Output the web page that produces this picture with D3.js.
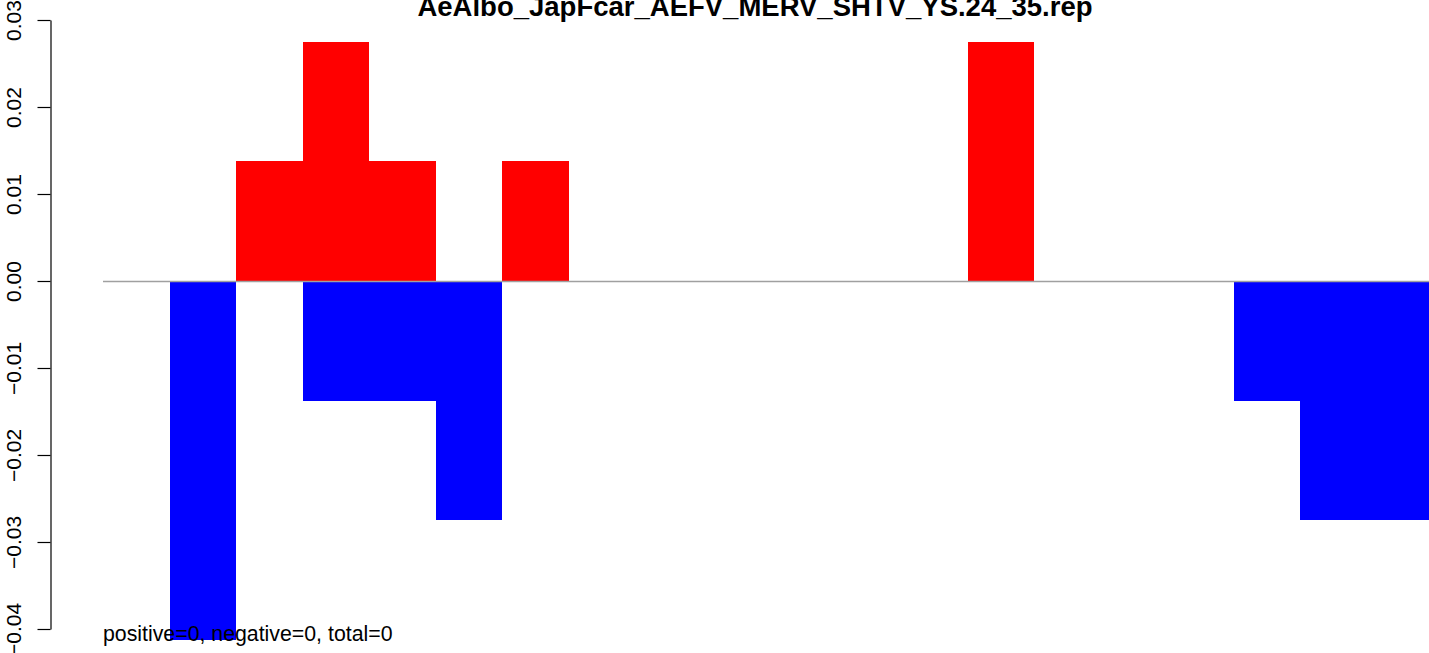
<!DOCTYPE html>
<html>
<head>
<meta charset="utf-8">
<script src="https://cdn.jsdelivr.net/npm/d3@7"></script>
<style>
  html, body { margin: 0; padding: 0; background: #fff; overflow: hidden; }
  svg { display: block; font-family: "Liberation Sans", Arial, Helvetica, sans-serif; }
</style>
</head>
<body>
<svg id="chart" width="1429" height="653"></svg>
<script>
// ---- data ----
const title = "AeAlbo_JapFcar_AEFV_MERV_SHTV_YS.24_35.rep";
const bins = d3.range(20);
const positiveValues = [0, 0, 0.01375, 0.0275, 0.01375, 0, 0.01375, 0, 0, 0, 0, 0, 0, 0.0275, 0, 0, 0, 0, 0, 0];
const negativeValues = [0, -0.04125, 0, -0.01375, -0.01375, -0.0275, 0, 0, 0, 0, 0, 0, 0, 0, 0, 0, 0, -0.01375, -0.0275, -0.0275];
const yTicks = [-0.04, -0.03, -0.02, -0.01, 0.00, 0.01, 0.02, 0.03];
const footnote = "positive=0, negative=0, total=0";

// ---- layout ----
const svg = d3.select("#chart");
const x = d3.scaleLinear().domain([0, bins.length]).range([103, 1433]);
const y = d3.scaleLinear().domain([-0.04, 0.03]).range([629, 20]);
const axisX = 50.5;

// bars
svg.append("g").selectAll("rect.pos")
  .data(bins.filter(i => positiveValues[i] !== 0))
  .join("rect")
  .attr("x", i => x(i))
  .attr("width", i => x(i + 1) - x(i))
  .attr("y", i => y(positiveValues[i]))
  .attr("height", i => y(0) - y(positiveValues[i]))
  .attr("fill", "#FF0000")
  .attr("shape-rendering", "crispEdges");

svg.append("g").selectAll("rect.neg")
  .data(bins.filter(i => negativeValues[i] !== 0))
  .join("rect")
  .attr("x", i => x(i))
  .attr("width", i => x(i + 1) - x(i))
  .attr("y", y(0))
  .attr("height", i => y(negativeValues[i]) - y(0))
  .attr("fill", "#0000FF")
  .attr("shape-rendering", "crispEdges");

// zero line
svg.append("line")
  .attr("x1", x(0)).attr("x2", 1429)
  .attr("y1", Math.round(y(0)) + 0.5).attr("y2", Math.round(y(0)) + 0.5)
  .attr("stroke", "#A0A0A0").attr("stroke-width", 1.4);

// y axis
const yAxis = d3.axisLeft(y).tickValues(yTicks).tickSize(13).tickSizeOuter(0)
  .tickFormat(d => d3.format(".2f")(d).replace("-", "\u2212"));
const gAxis = svg.append("g").attr("transform", `translate(${axisX},0)`).call(yAxis);
gAxis.select(".domain").attr("stroke", "#000").attr("stroke-width", 1.2);
gAxis.selectAll(".tick line").attr("stroke", "#000").attr("stroke-width", 1.2);
gAxis.selectAll(".tick text")
  .attr("fill", "#000")
  .attr("font-size", 21)
  .attr("font-family", "Liberation Sans, Arial, sans-serif")
  .attr("x", 0).attr("dy", 0)
  .attr("text-anchor", "middle")
  .attr("transform", `translate(${21 - axisX},0) rotate(-90)`);

// title
svg.append("text")
  .attr("x", 755).attr("y", 16)
  .attr("text-anchor", "middle")
  .attr("font-weight", "bold")
  .attr("font-size", 27.5)
  .attr("fill", "#000")
  .text(title);

// footnote
svg.append("text")
  .attr("x", 103).attr("y", 641)
  .attr("font-size", 21.3)
  .attr("fill", "#000")
  .text(footnote);
</script>
</body>
</html>
